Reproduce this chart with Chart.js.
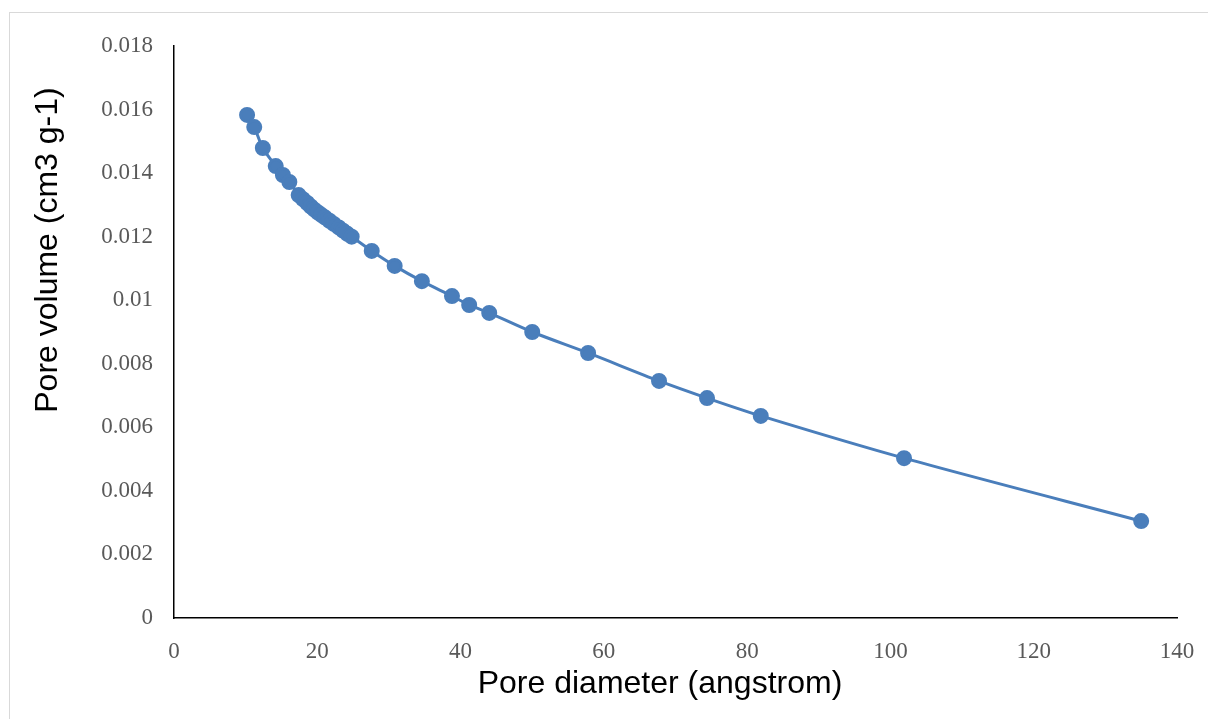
<!DOCTYPE html>
<html>
<head>
<meta charset="utf-8">
<script src="https://cdn.jsdelivr.net/npm/chart.js@4/dist/chart.umd.min.js"></script>
<style>
  body { margin: 0; background: #fff; }
  #wrap { position: relative; width: 1208px; height: 719px; }
  #frame { position: absolute; left: 9px; top: 12px; width: 1210px; height: 720px; border: 1px solid #d9d9d9; box-sizing: border-box; }
  canvas { position: absolute; left: 0; top: 0; }
</style>
</head>
<body>
<div id="wrap">
  <div id="frame"></div>
  <canvas id="myChart" width="1208" height="719"></canvas>
</div>
<script>
// pore diameter (angstrom)
var diameters = [10.2, 11.2, 12.4, 14.2, 15.2, 16.1,
  17.4, 18.0, 18.6, 19.1, 19.6, 20.1, 20.6, 21.1, 21.7, 22.3, 23.0, 23.6, 24.2, 24.8,
  27.6, 30.8, 34.6, 38.8, 41.2, 44.0, 50.0, 57.8, 67.7, 74.4, 81.9, 101.9, 135.0]
// pore volume (cm3 g-1)
var volumes = [0.01583, 0.01545, 0.01479, 0.01422, 0.01394, 0.01372,
  0.01331, 0.01318, 0.01306, 0.01295, 0.01285, 0.01276, 0.01268, 0.01260, 0.01250, 0.01240, 0.01229, 0.01219, 0.01209, 0.01200,
  0.01155, 0.01108, 0.01060, 0.01013, 0.00985, 0.00960, 0.00900, 0.00834, 0.00746, 0.00692, 0.00636, 0.00503, 0.00305]

var xTitle = 'Pore diameter (angstrom)'
var yTitle = 'Pore volume (cm3 g-1)'

var points = []
for (var i = 0; i < diameters.length; i++) {
  points.push({ x: diameters[i], y: volumes[i] })
}

// axis titles are not centred on the axes in the original, so draw them here
var axisTitles = {
  id: 'axisTitles',
  afterDraw: function (c) {
    var g = c.ctx
    g.save()
    g.fillStyle = '#000'
    g.font = '32px "Liberation Sans"'
    g.textAlign = 'center'
    g.textBaseline = 'middle'
    g.fillText(xTitle, 660, 684)
    g.translate(48, 250)
    g.rotate(-Math.PI / 2)
    g.fillText(yTitle, 0, 0)
    g.restore()
  }
}

var ctx = document.getElementById('myChart').getContext('2d')
var chart = new Chart(ctx, {
  type: 'scatter',
  data: {
    datasets: [{
      data: points,
      showLine: true,
      borderColor: '#4a7ebb',
      backgroundColor: '#4a7ebb',
      borderWidth: 3,
      pointRadius: 6.5,
      pointHoverRadius: 6.5,
      tension: 0.3
    }]
  },
  options: {
    responsive: false,
    animation: false,
    layout: { padding: { left: 0, top: 46, right: 31, bottom: 0 } },
    plugins: { legend: { display: false }, tooltip: { enabled: false } },
    scales: {
      x: {
        type: 'linear',
        min: 0, max: 140,
        grid: { display: false },
        border: { display: true, color: '#000', width: 1.5 },
        ticks: { stepSize: 20, padding: 12, color: '#595959',
          font: { family: 'Liberation Serif', size: 23 } },
        afterFit: function (s) { s.height = 101; s.paddingLeft = 0; s.paddingRight = 0 }
      },
      y: {
        min: 0, max: 0.018,
        grid: { display: false },
        border: { display: true, color: '#000', width: 1.5 },
        ticks: { stepSize: 0.002, padding: 13, color: '#595959',
          font: { family: 'Liberation Serif', size: 23 },
          callback: function (v) { return String(Number(v.toFixed(3))) } },
        afterFit: function (s) { s.width = 174 }
      }
    }
  },
  plugins: [axisTitles]
})
</script>
</body>
</html>
